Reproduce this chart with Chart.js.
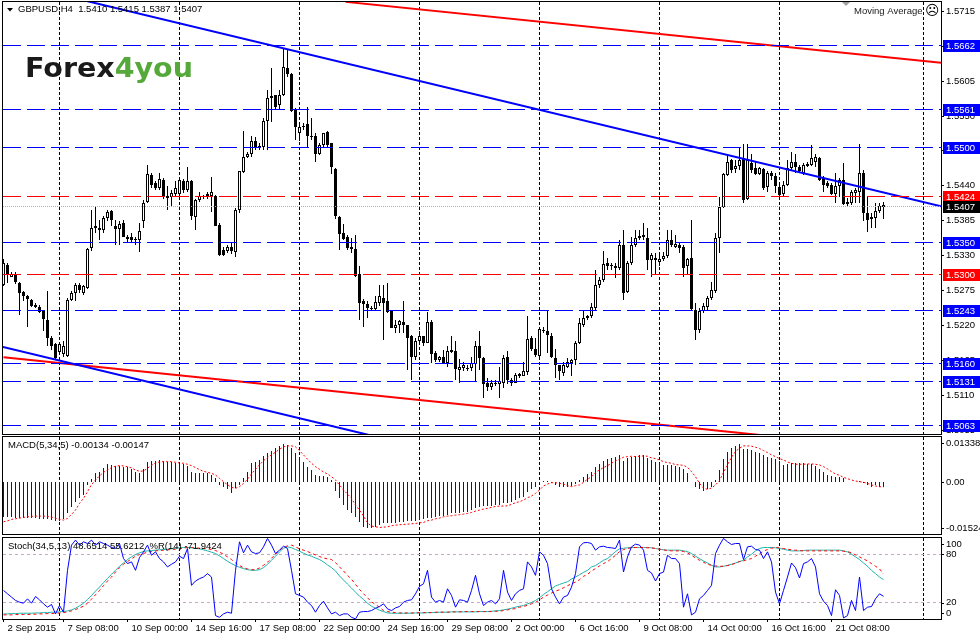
<!DOCTYPE html>
<html><head><meta charset="utf-8">
<script src="https://cdn.jsdelivr.net/npm/chart.js@4.4.1/dist/chart.umd.min.js"></script>
<style>
html,body{margin:0;padding:0;background:#fff;width:980px;height:635px;overflow:hidden}
canvas{position:absolute;left:0}
</style></head><body>
<canvas id="c1" width="980" height="436" style="top:0"></canvas>
<canvas id="c2" width="980" height="99" style="top:436px"></canvas>
<canvas id="c3" width="980" height="100" style="top:535px"></canvas>
<script>
// ---------- DATA (GBPUSD H4) ----------
const opens = [
1.5284,1.5316,1.5297,1.5301,1.5287,1.5272,1.5267,1.5260,1.5253,1.5249,
1.5242,1.5229,1.5200,1.5190,1.5178,1.5175,1.5172,1.5260,1.5271,1.5284,
1.5271,1.5279,1.5342,1.5374,1.5374,1.5371,1.5389,1.5401,1.5377,1.5372,
1.5381,1.5360,1.5359,1.5356,1.5354,1.5384,1.5414,1.5457,1.5444,1.5436,
1.5450,1.5424,1.5423,1.5427,1.5427,1.5448,1.5433,1.5448,1.5391,1.5418,
1.5424,1.5424,1.5424,1.5424,1.5379,1.5339,1.5338,1.5344,1.5335,1.5402,
1.5462,1.5486,1.5490,1.5511,1.5499,1.5502,1.5543,1.5578,1.5583,1.5567,
1.5583,1.5625,1.5617,1.5561,1.5523,1.5533,1.5537,1.5519,1.5519,1.5490,
1.5504,1.5525,1.5507,1.5466,1.5391,1.5366,1.5359,1.5343,1.5340,1.5301,
1.5258,1.5254,1.5246,1.5246,1.5256,1.5263,1.5258,1.5242,1.5216,1.5220,
1.5226,1.5221,1.5203,1.5170,1.5195,1.5203,1.5192,1.5226,1.5176,1.5166,
1.5170,1.5161,1.5178,1.5180,1.5149,1.5153,1.5153,1.5153,1.5160,1.5187,
1.5169,1.5129,1.5123,1.5128,1.5128,1.5129,1.5170,1.5134,1.5130,1.5141,
1.5141,1.5146,1.5200,1.5183,1.5172,1.5211,1.5211,1.5204,1.5169,1.5157,
1.5145,1.5155,1.5161,1.5166,1.5192,1.5221,1.5232,1.5235,1.5247,1.5283,
1.5292,1.5318,1.5316,1.5310,1.5310,1.5347,1.5272,1.5318,1.5347,1.5358,
1.5363,1.5358,1.5323,1.5326,1.5320,1.5325,1.5329,1.5354,1.5344,1.5347,
1.5344,1.5313,1.5326,1.5245,1.5213,1.5242,1.5249,1.5263,1.5275,1.5358,
1.5407,1.5457,1.5481,1.5466,1.5472,1.5484,1.5419,1.5476,1.5468,1.5459,
1.5466,1.5438,1.5460,1.5456,1.5438,1.5427,1.5442,1.5468,1.5478,1.5470,
1.5460,1.5472,1.5473,1.5478,1.5484,1.5452,1.5444,1.5442,1.5427,1.5440,
1.5450,1.5415,1.5413,1.5428,1.5430,1.5461,1.5398,1.5391,1.5389,1.5401,1.5410];
const highs = [
1.5324,1.5318,1.5305,1.5304,1.5288,1.5275,1.5268,1.5261,1.5255,1.5253,
1.5245,1.5274,1.5203,1.5192,1.5192,1.5195,1.5263,1.5275,1.5287,1.5287,
1.5284,1.5342,1.5402,1.5407,1.5386,1.5392,1.5402,1.5402,1.5386,1.5384,
1.5386,1.5363,1.5365,1.5359,1.5381,1.5418,1.5473,1.5460,1.5447,1.5460,
1.5452,1.5439,1.5434,1.5447,1.5452,1.5451,1.5469,1.5450,1.5419,1.5431,
1.5426,1.5431,1.5454,1.5426,1.5381,1.5343,1.5347,1.5350,1.5405,1.5464,
1.5527,1.5494,1.5519,1.5517,1.5507,1.5547,1.5591,1.5625,1.5584,1.5591,
1.5655,1.5654,1.5618,1.5562,1.5541,1.5539,1.5565,1.5547,1.5523,1.5507,
1.5523,1.5527,1.5507,1.5468,1.5392,1.5380,1.5363,1.5358,1.5363,1.5313,
1.5261,1.5258,1.5250,1.5266,1.5284,1.5284,1.5287,1.5242,1.5229,1.5229,
1.5258,1.5221,1.5205,1.5200,1.5211,1.5203,1.5241,1.5229,1.5179,1.5172,
1.5181,1.5187,1.5203,1.5195,1.5167,1.5163,1.5158,1.5171,1.5195,1.5211,
1.5171,1.5137,1.5134,1.5134,1.5155,1.5174,1.5179,1.5137,1.5145,1.5145,
1.5163,1.5235,1.5203,1.5200,1.5216,1.5218,1.5242,1.5208,1.5183,1.5158,
1.5163,1.5169,1.5167,1.5195,1.5232,1.5242,1.5237,1.5255,1.5308,1.5297,
1.5337,1.5326,1.5318,1.5318,1.5355,1.5371,1.5321,1.5360,1.5371,1.5371,
1.5381,1.5373,1.5334,1.5334,1.5331,1.5335,1.5371,1.5371,1.5363,1.5350,
1.5347,1.5326,1.5386,1.5256,1.5247,1.5255,1.5266,1.5288,1.5366,1.5423,
1.5460,1.5491,1.5482,1.5481,1.5499,1.5506,1.5506,1.5491,1.5478,1.5470,
1.5468,1.5463,1.5463,1.5460,1.5442,1.5447,1.5481,1.5494,1.5491,1.5473,
1.5476,1.5478,1.5505,1.5491,1.5486,1.5455,1.5447,1.5444,1.5460,1.5452,
1.5476,1.5421,1.5434,1.5436,1.5506,1.5465,1.5423,1.5397,1.5413,1.5413,1.5415];
const lows = [
1.5282,1.5287,1.5296,1.5286,1.5237,1.5258,1.5218,1.5249,1.5247,1.5240,
1.5211,1.5187,1.5182,1.5165,1.5176,1.5171,1.5170,1.5258,1.5258,1.5271,
1.5268,1.5277,1.5338,1.5365,1.5355,1.5365,1.5384,1.5376,1.5347,1.5347,
1.5359,1.5350,1.5350,1.5347,1.5336,1.5373,1.5413,1.5436,1.5434,1.5434,
1.5419,1.5402,1.5407,1.5423,1.5423,1.5428,1.5430,1.5386,1.5371,1.5415,
1.5420,1.5419,1.5399,1.5376,1.5330,1.5329,1.5334,1.5333,1.5328,1.5397,
1.5460,1.5484,1.5486,1.5497,1.5497,1.5497,1.5497,1.5540,1.5560,1.5560,
1.5582,1.5612,1.5557,1.5513,1.5510,1.5528,1.5502,1.5513,1.5477,1.5489,
1.5502,1.5502,1.5459,1.5387,1.5339,1.5355,1.5339,1.5334,1.5297,1.5229,
1.5218,1.5232,1.5245,1.5245,1.5250,1.5197,1.5239,1.5216,1.5208,1.5208,
1.5208,1.5150,1.5134,1.5166,1.5192,1.5187,1.5192,1.5161,1.5163,1.5163,
1.5161,1.5155,1.5176,1.5134,1.5129,1.5148,1.5148,1.5148,1.5132,1.5150,
1.5106,1.5116,1.5119,1.5124,1.5106,1.5121,1.5127,1.5124,1.5129,1.5137,
1.5140,1.5142,1.5179,1.5171,1.5169,1.5208,1.5177,1.5169,1.5137,1.5134,
1.5140,1.5153,1.5140,1.5158,1.5190,1.5218,1.5229,1.5232,1.5245,1.5279,
1.5289,1.5308,1.5308,1.5295,1.5308,1.5260,1.5271,1.5316,1.5344,1.5355,
1.5355,1.5308,1.5297,1.5300,1.5313,1.5321,1.5326,1.5344,1.5342,1.5334,
1.5297,1.5300,1.5245,1.5197,1.5208,1.5239,1.5245,1.5260,1.5271,1.5334,
1.5405,1.5455,1.5460,1.5461,1.5465,1.5413,1.5417,1.5460,1.5457,1.5457,
1.5434,1.5430,1.5449,1.5428,1.5423,1.5423,1.5440,1.5465,1.5460,1.5460,
1.5457,1.5470,1.5472,1.5470,1.5447,1.5431,1.5436,1.5426,1.5413,1.5423,
1.5410,1.5409,1.5410,1.5413,1.5413,1.5384,1.5368,1.5373,1.5373,1.5397,1.5387];
const closes = [
1.5318,1.5300,1.5301,1.5288,1.5271,1.5267,1.5262,1.5250,1.5249,1.5241,
1.5230,1.5200,1.5187,1.5169,1.5190,1.5187,1.5260,1.5271,1.5284,1.5276,
1.5282,1.5340,1.5374,1.5377,1.5371,1.5389,1.5399,1.5386,1.5372,1.5380,
1.5360,1.5356,1.5354,1.5354,1.5369,1.5413,1.5458,1.5442,1.5437,1.5451,
1.5423,1.5421,1.5428,1.5436,1.5450,1.5433,1.5448,1.5392,1.5418,1.5424,
1.5423,1.5427,1.5430,1.5377,1.5331,1.5331,1.5343,1.5338,1.5402,1.5463,
1.5485,1.5491,1.5511,1.5499,1.5503,1.5542,1.5578,1.5581,1.5565,1.5584,
1.5627,1.5616,1.5558,1.5532,1.5532,1.5535,1.5518,1.5517,1.5490,1.5505,
1.5523,1.5504,1.5469,1.5392,1.5364,1.5357,1.5342,1.5340,1.5298,1.5256,
1.5254,1.5247,1.5247,1.5257,1.5266,1.5256,1.5241,1.5216,1.5220,1.5227,
1.5221,1.5200,1.5171,1.5195,1.5203,1.5193,1.5226,1.5175,1.5166,1.5170,
1.5161,1.5179,1.5182,1.5151,1.5155,1.5157,1.5151,1.5161,1.5187,1.5169,
1.5127,1.5123,1.5130,1.5130,1.5132,1.5169,1.5134,1.5130,1.5142,1.5144,
1.5148,1.5199,1.5183,1.5174,1.5214,1.5213,1.5205,1.5170,1.5158,1.5148,
1.5158,1.5162,1.5166,1.5192,1.5224,1.5232,1.5235,1.5249,1.5284,1.5292,
1.5317,1.5313,1.5313,1.5313,1.5347,1.5271,1.5318,1.5347,1.5358,1.5361,
1.5359,1.5323,1.5331,1.5323,1.5325,1.5329,1.5355,1.5347,1.5349,1.5342,
1.5310,1.5325,1.5246,1.5213,1.5242,1.5250,1.5263,1.5276,1.5358,1.5407,
1.5458,1.5478,1.5465,1.5472,1.5481,1.5418,1.5481,1.5465,1.5459,1.5468,
1.5436,1.5460,1.5455,1.5439,1.5426,1.5442,1.5468,1.5478,1.5470,1.5463,
1.5473,1.5474,1.5484,1.5486,1.5450,1.5442,1.5440,1.5427,1.5440,1.5450,
1.5412,1.5412,1.5431,1.5434,1.5460,1.5398,1.5386,1.5388,1.5401,1.5409,1.5407];

const macdMain = [
-0.01054,-0.01054,-0.01054,-0.01064,-0.01064,-0.01074,-0.01074,-0.01083,-0.01083,-0.01093,
-0.01093,-0.01113,-0.01133,-0.01173,-0.01153,-0.01113,-0.00914,-0.00736,-0.00586,-0.00487,
-0.00388,-0.00089,0.00080,0.00258,0.00308,0.00408,0.00527,0.00507,0.00487,0.00477,
0.00457,0.00437,0.00378,0.00308,0.00278,0.00378,0.00586,0.00626,0.00636,0.00656,
0.00626,0.00606,0.00586,0.00557,0.00537,0.00527,0.00477,0.00308,0.00278,0.00278,
0.00278,0.00258,0.00209,0.00109,-0.00089,-0.00139,-0.00219,-0.00318,-0.00189,-0.00089,
0.00109,0.00308,0.00557,0.00606,0.00656,0.00775,0.00875,0.00934,0.01004,0.01074,
0.01133,0.01103,0.01004,0.00855,0.00706,0.00606,0.00457,0.00358,0.00209,0.00189,
0.00189,0.00159,0.00060,-0.00268,-0.00487,-0.00686,-0.00835,-0.00914,-0.01034,-0.01183,
-0.01332,-0.01382,-0.01382,-0.01332,-0.01282,-0.01233,-0.01213,-0.01213,-0.01213,-0.01203,
-0.01183,-0.01153,-0.01153,-0.01153,-0.01133,-0.01113,-0.01083,-0.01083,-0.01054,-0.01014,
-0.01014,-0.00984,-0.00934,-0.00934,-0.00914,-0.00885,-0.00885,-0.00835,-0.00785,-0.00755,
-0.00716,-0.00716,-0.00716,-0.00686,-0.00686,-0.00636,-0.00616,-0.00586,-0.00537,-0.00487,
-0.00437,-0.00288,-0.00219,-0.00139,-0.00040,0.00030,0.00040,-0.00020,-0.00089,-0.00159,
-0.00159,-0.00139,-0.00119,-0.00060,0.00060,0.00159,0.00229,0.00308,0.00457,0.00527,
0.00636,0.00676,0.00706,0.00755,0.00805,0.00636,0.00706,0.00755,0.00785,0.00805,
0.00805,0.00706,0.00656,0.00606,0.00557,0.00507,0.00507,0.00507,0.00477,0.00457,
0.00378,0.00278,0.00010,-0.00159,-0.00219,-0.00258,-0.00219,-0.00139,0.00060,0.00358,
0.00676,0.00905,0.01004,0.01074,0.01133,0.00974,0.00974,0.00954,0.00905,0.00855,
0.00805,0.00755,0.00706,0.00676,0.00636,0.00507,0.00527,0.00557,0.00557,0.00557,
0.00557,0.00527,0.00527,0.00477,0.00378,0.00308,0.00209,0.00179,0.00159,0.00139,
0.00109,0.00010,0.00010,-0.00010,0.00040,-0.00020,-0.00089,-0.00139,-0.00089,-0.00159,-0.00134];
const macdSignal = [
-0.01183,-0.01153,-0.01113,-0.01093,-0.01074,-0.01054,-0.01034,-0.01024,-0.01014,-0.01014,
-0.01014,-0.01024,-0.01044,-0.01074,-0.01113,-0.01133,-0.01083,-0.00964,-0.00835,-0.00636,
-0.00487,-0.00288,-0.00080,0.00060,0.00179,0.00288,0.00358,0.00427,0.00467,0.00487,
0.00477,0.00457,0.00417,0.00358,0.00318,0.00328,0.00408,0.00497,0.00567,0.00596,
0.00606,0.00606,0.00606,0.00586,0.00567,0.00557,0.00527,0.00487,0.00427,0.00368,
0.00318,0.00288,0.00258,0.00209,0.00109,0.00010,-0.00080,-0.00159,-0.00189,-0.00139,
-0.00040,0.00080,0.00239,0.00378,0.00507,0.00636,0.00726,0.00805,0.00885,0.00974,
0.01044,0.01074,0.01074,0.01044,0.00934,0.00805,0.00676,0.00557,0.00457,0.00378,
0.00298,0.00239,0.00159,0.00060,-0.00089,-0.00239,-0.00358,-0.00487,-0.00686,-0.00835,
-0.01014,-0.01213,-0.01312,-0.01332,-0.01352,-0.01342,-0.01332,-0.01302,-0.01282,-0.01272,
-0.01262,-0.01252,-0.01243,-0.01233,-0.01213,-0.01203,-0.01153,-0.01133,-0.01093,-0.01074,
-0.01034,-0.01014,-0.01004,-0.00984,-0.00974,-0.00954,-0.00934,-0.00905,-0.00865,-0.00835,
-0.00805,-0.00785,-0.00755,-0.00726,-0.00716,-0.00716,-0.00706,-0.00666,-0.00616,-0.00586,
-0.00537,-0.00467,-0.00417,-0.00338,-0.00239,-0.00119,-0.00060,-0.00020,-0.00020,-0.00040,
-0.00060,-0.00109,-0.00139,-0.00109,-0.00089,-0.00010,0.00080,0.00159,0.00278,0.00358,
0.00427,0.00487,0.00557,0.00626,0.00676,0.00736,0.00755,0.00765,0.00755,0.00765,
0.00775,0.00765,0.00716,0.00696,0.00656,0.00606,0.00577,0.00557,0.00517,0.00507,
0.00497,0.00437,0.00308,0.00159,-0.00040,-0.00179,-0.00219,-0.00179,-0.00089,0.00040,
0.00288,0.00507,0.00736,0.00905,0.01004,0.01074,0.01074,0.01064,0.01034,0.00994,
0.00934,0.00875,0.00805,0.00755,0.00696,0.00656,0.00596,0.00557,0.00527,0.00527,
0.00527,0.00537,0.00537,0.00527,0.00507,0.00457,0.00388,0.00308,0.00239,0.00199,
0.00139,0.00099,0.00060,0.00030,0.00010,-0.00010,-0.00040,-0.00089,-0.00119,-0.00139,-0.00147];

const stochMain = [
6.3,6.3,6.7,6.7,7.1,7.1,7.1,7.1,7.5,7.5,
7.9,7.9,8.4,8.4,8.8,9.2,10.0,11.3,13.3,16.2,
19.5,24.1,29.1,34.4,39.4,44.8,50.2,55.1,60.1,65.1,
69.2,73.4,76.7,79.6,81.7,83.3,84.1,84.5,85.0,85.4,
85.8,86.2,86.6,87.4,87.9,88.3,88.3,87.9,87.4,86.6,
85.4,84.1,82.5,80.8,77.9,74.6,71.3,68.4,65.9,63.8,
62.2,60.9,60.1,60.1,60.9,63.4,67.6,72.5,77.5,82.9,
87.4,89.1,87.9,85.8,83.7,81.2,79.1,77.5,75.4,73.4,
70.5,66.7,63.4,59.3,53.1,48.1,43.1,38.2,33.2,28.2,
24.1,19.5,15.8,13.3,10.8,9.2,7.5,7.1,7.1,7.1,
7.1,7.1,7.1,7.5,7.5,7.5,7.9,7.9,7.9,8.4,
8.4,8.4,8.8,8.8,8.8,8.8,8.8,8.8,8.8,9.2,
9.2,9.2,9.6,10.0,10.4,11.3,12.1,13.3,14.6,15.8,
16.6,18.7,20.4,22.9,26.2,30.3,33.6,37.3,40.7,42.7,
44.4,46.0,49.4,51.8,54.7,57.6,60.1,64.3,65.9,69.2,
72.5,74.6,78.7,83.3,86.6,87.4,87.9,88.3,88.3,88.3,
88.3,88.3,87.9,87.0,86.2,85.4,85.0,85.0,85.0,85.0,
84.1,83.3,80.8,77.5,74.6,71.7,69.2,66.3,64.3,64.3,
65.1,66.3,67.6,69.2,70.9,72.5,76.7,80.0,84.1,87.0,
88.3,88.3,88.3,87.9,87.0,86.2,85.0,84.1,84.1,84.1,
84.5,85.0,85.0,85.0,85.0,85.0,85.0,85.0,85.0,85.0,
84.1,82.9,80.0,76.7,73.4,69.2,65.1,60.1,56.0,51.8,48.6514];
const stochSignal = [
5.1,5.1,5.1,5.5,5.5,5.5,5.5,5.9,5.9,6.3,
6.3,6.7,6.7,7.1,7.5,7.9,8.8,10.0,11.7,13.7,
15.8,19.5,24.5,29.9,35.3,41.1,46.9,51.8,58.0,63.4,
67.6,70.9,74.2,77.5,79.6,80.8,82.5,83.3,84.1,84.5,
85.0,85.4,85.8,86.2,86.6,87.4,88.3,88.3,87.9,87.4,
87.0,86.6,85.8,84.5,82.5,80.0,76.7,73.4,69.2,65.9,
63.4,61.8,60.9,60.9,63.0,66.3,70.1,75.0,80.0,85.0,
88.3,90.3,91.2,89.1,86.6,85.0,83.3,81.2,79.1,77.1,
75.4,74.2,73.4,69.6,64.3,59.3,53.9,49.0,42.7,36.5,
31.1,26.2,21.2,17.9,14.6,10.4,9.2,8.4,7.9,7.5,
7.5,7.5,7.5,7.5,7.9,7.9,7.9,7.9,8.4,8.4,
8.4,8.4,8.8,8.8,8.8,9.2,9.2,9.2,9.2,9.2,
9.2,9.2,9.2,9.6,9.6,10.4,11.3,12.1,12.9,14.6,
15.4,17.0,18.7,20.4,23.7,27.0,29.5,32.0,34.4,36.1,
38.6,41.1,43.5,45.6,48.5,52.7,55.1,59.3,62.2,65.5,
68.4,70.9,74.6,78.7,83.3,85.8,87.0,87.9,88.3,88.3,
88.3,87.9,87.9,87.0,86.2,85.4,84.5,84.1,84.1,84.1,
83.3,81.7,78.7,75.4,72.5,70.1,67.6,66.3,65.5,65.1,
65.1,65.9,67.1,68.8,70.9,71.7,73.4,74.6,77.5,80.8,
83.7,85.8,87.4,88.3,87.9,87.0,86.2,85.4,85.0,84.5,
84.1,84.1,84.1,84.1,84.1,84.1,84.1,84.1,84.1,84.1,
83.7,83.3,81.7,79.1,76.7,74.2,71.7,68.4,65.1,61.8,55.6212];
const williamsR = [
-64.7,-68.9,-73.0,-77.1,-79.2,-80.5,-75.1,-80.5,-72.2,-76.3,
-81.3,-85.4,-82.1,-93.7,-83.4,-91.6,-39.9,-8.8,-2.6,-8.8,
-4.7,-6.8,-2.6,-8.8,-4.7,-6.8,-8.8,-11.7,-13.0,-6.8,
-25.4,-31.6,-29.5,-39.9,-24.1,-17.1,-8.8,-21.3,-17.1,-25.4,
-29.5,-35.7,-32.4,-29.5,-22.5,-25.4,-13.0,-58.5,-53.1,-50.2,
-48.2,-44.0,-48.2,-95.8,-97.9,-93.7,-91.6,-92.9,-39.9,-4.7,
-18.3,-8.8,-17.1,-19.2,-18.3,-10.9,-0.5,-8.8,-19.2,-15.0,
-10.1,-13.0,-39.9,-68.9,-70.9,-73.0,-79.2,-83.4,-91.6,-83.4,
-78.0,-86.3,-93.7,-91.6,-95.8,-93.7,-93.7,-97.9,-99.9,-91.6,
-90.8,-90.8,-89.6,-86.7,-84.6,-81.3,-87.5,-89.6,-86.3,-84.6,
-79.2,-77.1,-76.3,-68.9,-59.7,-56.5,-39.9,-73.0,-79.2,-77.1,
-79.2,-62.7,-70.9,-85.4,-76.3,-77.1,-79.2,-64.7,-46.1,-68.9,
-83.4,-79.2,-77.1,-81.3,-75.1,-39.9,-66.8,-77.1,-68.9,-64.7,
-62.7,-29.5,-35.7,-46.1,-17.1,-21.3,-31.6,-62.7,-73.0,-81.3,
-73.0,-70.9,-60.6,-44.0,-10.9,-5.9,-5.5,-6.8,-15.0,-10.9,
-10.1,-11.7,-12.1,-13.0,-2.6,-42.0,-23.3,-10.9,-7.6,-8.8,
-15.0,-39.9,-43.2,-53.1,-44.0,-42.0,-21.3,-25.4,-25.4,-31.6,
-85.4,-68.9,-95.0,-91.6,-75.1,-70.9,-64.7,-58.5,-19.2,-8.8,
-0.5,-4.7,-8.0,-6.8,-6.8,-26.6,-10.9,-10.1,-14.2,-15.0,
-25.4,-17.1,-29.5,-66.8,-81.3,-64.7,-48.2,-30.8,-36.6,-49.4,
-31.6,-29.5,-25.4,-35.7,-68.9,-78.0,-83.4,-95.8,-63.9,-70.9,
-98.7,-95.8,-77.1,-89.6,-48.2,-89.6,-85.4,-84.6,-75.1,-68.9,-71.9424];

const xTickIdx = [0,15,31,47,63,79,95,111,127,143,159,175,191,207];
const xTickLabels = ["2 Sep 2015","7 Sep 08:00","10 Sep 00:00","14 Sep 16:00","17 Sep 08:00","22 Sep 00:00","24 Sep 16:00","29 Sep 08:00","2 Oct 00:00","6 Oct 16:00","9 Oct 08:00","14 Oct 00:00","16 Oct 16:00","21 Oct 08:00"];
const gridIdx = [14,44,74,104,134,164,194,230];
const priceTicks = [1.5715,1.5660,1.5605,1.5550,1.5495,1.5440,1.5385,1.5330,1.5275,1.5220,1.5165,1.5110,1.5055];
const blueLevels = [1.5662,1.5561,1.5500,1.5350,1.5243,1.5160,1.5131,1.5063];
const redLevels = [1.5424,1.5300];
const bidPrice = 1.5407;
const blueTrendUpper = [[-0.125,1.5763],[234.375,1.5408]];
const blueTrendLower = [[-0.125,1.5186],[120,1.5004]];
const redTrendUpper = [[85.5,1.5730],[234.375,1.5634]];
const redTrendLower = [[0,1.5170],[234.375,1.5018]];
const macdAxisLabels = [[0.01338,"0.01338"],[0,"0.00"],[-0.01524,"-0.01524"]];
const stochAxisLabels = [[100,"100"],[80,"80"],[20,"20"],[0,"0"]];
const stochLevels = [80,20];
const titleMain = "GBPUSD,H4  1.5410 1.5415 1.5387 1.5407";
const titleMacd = "MACD(5,34,5) -0.00134 -0.00147";
const titleStoch = "Stoch(34,5,13) 48.6514 55.6212  %R(14) -71.9424";

// ---------- RENDERING ----------
const FONT = '"Liberation Sans", Arial, sans-serif';
const FS = 9.5;
const X_MIN = -0.125, X_MAX = 234.375;
const idx = closes.map((_, i) => i);
const BLUE = '#0000ff', RED = '#ff0000';

function hLine(v, color, dash, yAxisID) {
  return {type:'line', data:[{x:X_MIN,y:v},{x:X_MAX,y:v}], borderColor:color, borderWidth:1,
    borderDash:dash, pointRadius:0, order:0, snapY:v, yAxisID: yAxisID || 'y'};
}
function trend(pts, color) {
  return {type:'line', data:pts.map(p=>({x:p[0],y:p[1]})), borderColor:color, borderWidth:2,
    pointRadius:0, order:0};
}
// pixel-snapping of horizontal lines and bars (rendering crispness only)
const pixelSnap = {
  id:'pixelSnap',
  afterDatasetsUpdate(chart) {
    chart.data.datasets.forEach((ds, i) => {
      const meta = chart.getDatasetMeta(i);
      if (meta.type !== 'bar') return;
      meta.data.forEach(el => {
        let t = Math.round(el.y), b = Math.round(el.base);
        if (t === b && ds.minBarLength) { if (el.y <= el.base) b = t + 1; else t = b + 1; }
        el.y = t; el.base = b; el.height = b - t;
      });
    });
  },
  beforeDatasetDraw(chart, args) {
    const ds = chart.data.datasets[args.index];
    if (ds.snapY === undefined) return;
    const y = chart.scales[ds.yAxisID || 'y'].getPixelForValue(ds.snapY);
    chart.ctx.save(); chart.ctx.translate(0, Math.floor(y) + 0.5 - y); ds._snapped = true;
  },
  afterDatasetDraw(chart, args) {
    const ds = chart.data.datasets[args.index];
    if (ds._snapped) { chart.ctx.restore(); ds._snapped = false; }
  }
};
function frameGrid(chart) {
  const {ctx, chartArea:a, scales:{x}} = chart;
  ctx.save();
  ctx.beginPath(); ctx.rect(a.left, a.top, a.right-a.left, a.bottom-a.top); ctx.clip();
  ctx.strokeStyle = '#000'; ctx.lineWidth = 1; ctx.setLineDash([3,2]);
  gridIdx.forEach(g => {
    const px = Math.floor(x.getPixelForValue(g)) + 0.5;
    ctx.beginPath(); ctx.moveTo(px, a.top); ctx.lineTo(px, a.bottom); ctx.stroke();
  });
  ctx.restore();
}
function drawFrame(chart) {
  const {ctx, chartArea:a} = chart;
  ctx.save(); ctx.strokeStyle = '#000'; ctx.lineWidth = 1; ctx.setLineDash([]);
  ctx.strokeRect(a.left-0.5, a.top-0.5, a.right-a.left+1, a.bottom-a.top+1);
  ctx.restore();
}
function text(ctx, s, x, y, color, font) {
  ctx.fillStyle = color; ctx.font = font || (FS+'px '+FONT);
  ctx.textBaseline = 'middle'; ctx.textAlign = 'left'; ctx.fillText(s, x, y);
}
function sideLabels(chart, list, scaleId) {
  const {ctx, chartArea:a} = chart; const s = chart.scales[scaleId];
  ctx.save();
  list.forEach(([v, t]) => {
    let y = s.getPixelForValue(v);
    y = Math.max(a.top + 6, Math.min(a.bottom - 6, y));
    ctx.strokeStyle = '#000'; ctx.lineWidth = 1;
    ctx.beginPath(); ctx.moveTo(a.right, Math.round(y)+0.5); ctx.lineTo(a.right+3, Math.round(y)+0.5); ctx.stroke();
    text(ctx, t, a.right + 5, y, '#000');
  });
  ctx.restore();
}
const baseOpts = {responsive:false, devicePixelRatio:1, animation:false, events:[],
  plugins:{legend:{display:false}, tooltip:{enabled:false}}};
const xLinear = {type:'linear', min:X_MIN, max:X_MAX, offset:false, display:false};

// ---- main price pane ----
const mainDecor = {
  id:'mainDecor',
  beforeDatasetsDraw(chart) {
    frameGrid(chart);
    const ctx = chart.ctx;
    ctx.save();
    ctx.font = 'bold 26px "DejaVu Sans", sans-serif';
    ctx.textBaseline = 'alphabetic';
    const w1 = ctx.measureText('Forex').width, w2 = ctx.measureText('4you').width;
    const k = 168 / (w1 + w2);
    ctx.translate(25, 76.5); ctx.scale(k, 1);
    ctx.fillStyle = '#1a1a1a'; ctx.fillText('Forex', 0, 0);
    ctx.fillStyle = '#55a83a'; ctx.fillText('4you', w1, 0);
    ctx.restore();
  },
  afterDraw(chart) {
    const {ctx, chartArea:a, scales:{y}} = chart;
    drawFrame(chart);
    ctx.save();
    const boxes = blueLevels.map(v=>[v,BLUE]).concat(redLevels.map(v=>[v,RED]), [[bidPrice,'#000']]);
    boxes.forEach(([v,c]) => {
      const py = Math.floor(y.getPixelForValue(v));
      ctx.fillStyle = c; ctx.fillRect(a.right+2, py-5, 980-a.right-2, 12);
      text(ctx, v.toFixed(4), a.right+5, py+1, '#fff');
    });
    ctx.beginPath(); ctx.moveTo(7,8); ctx.lineTo(13,8); ctx.lineTo(10,11.5); ctx.closePath();
    ctx.fillStyle = '#000'; ctx.fill();
    text(ctx, titleMain, 18, 9.5, '#000');
    ctx.beginPath(); ctx.moveTo(842,2); ctx.lineTo(850,2); ctx.lineTo(846,6); ctx.closePath();
    ctx.fillStyle = '#a0a0a0'; ctx.fill();
    text(ctx, 'Moving Average', 854, 11.5, '#202020');
    text(ctx, '\u2639', 925, 11.5, '#000', '14px "DejaVu Sans", sans-serif');
    ctx.restore();
  }
};
const mainDatasets = [];
blueLevels.forEach(v => mainDatasets.push(hLine(v, BLUE, [18,6])));
redLevels.forEach(v => mainDatasets.push(hLine(v, RED, [18,6])));
mainDatasets.push(hLine(bidPrice, '#b8a8b8', [1,1]));
mainDatasets.push(trend(blueTrendUpper, BLUE), trend(blueTrendLower, BLUE),
                  trend(redTrendUpper, RED), trend(redTrendLower, RED));
mainDatasets.push({type:'bar', data: idx.map(i=>({x:i, y:[opens[i], closes[i]]})),
  backgroundColor: idx.map(i => closes[i] >= opens[i] ? '#ffffff' : '#000000'),
  borderColor:'#000', borderWidth:1, borderSkipped:false, barThickness:3, grouped:false,
  inflateAmount:0, minBarLength:1, order:1});
mainDatasets.push({type:'bar', data: idx.map(i=>({x:i, y:[lows[i], highs[i]]})),
  backgroundColor:'#000', borderWidth:0, barThickness:1, grouped:false, inflateAmount:0, order:2});

new Chart(document.getElementById('c1'), {
  type:'bar', data:{datasets: mainDatasets},
  options: Object.assign({}, baseOpts, {
    layout:{padding:{left:3, top:2, right:0, bottom:2}},
    scales:{
      x: xLinear,
      y:{position:'right', min:1.50489, max:1.57298,
        afterBuildTicks: s => { s.ticks = priceTicks.map(v => ({value:v})); },
        afterFit: s => { s.width = 39; s.paddingTop = 0; s.paddingBottom = 0; },
        ticks:{autoSkip:false, color:'#000', padding:2, font:{family:FONT, size:FS}, callback: v => Number(v).toFixed(4)},
        grid:{drawOnChartArea:false, drawTicks:true, tickLength:3, color:'#000'},
        border:{display:false}}
    }
  }),
  plugins:[pixelSnap, mainDecor]
});

// ---- MACD pane ----
new Chart(document.getElementById('c2'), {
  type:'bar',
  data:{datasets:[
    {type:'line', data: idx.map(i=>({x:i, y:macdSignal[i]})), borderColor:RED, borderWidth:1,
      borderDash:[2,2], pointRadius:0, order:0},
    {type:'bar', data: idx.map(i=>({x:i, y:macdMain[i]})), backgroundColor:BLUE, borderWidth:0,
      barThickness:1, grouped:false, inflateAmount:0, order:1}
  ]},
  options: Object.assign({}, baseOpts, {
    layout:{padding:{left:3, top:1, right:39, bottom:1}},
    scales:{
      x: xLinear,
      y:{min:-0.01546, max:0.01338, display:false}
    }
  }),
  plugins:[pixelSnap, {id:'macdDecor',
    beforeDatasetsDraw(chart){ frameGrid(chart); },
    afterDraw(chart){ drawFrame(chart); sideLabels(chart, macdAxisLabels, 'y');
      text(chart.ctx, titleMacd, 8, 9.5, '#000'); }}]
});

// ---- Stochastic / %R pane ----
new Chart(document.getElementById('c3'), {
  type:'line',
  data:{datasets:[
    {data: idx.map(i=>({x:i, y:williamsR[i]})), yAxisID:'yR', borderColor:BLUE, borderWidth:1, pointRadius:0, order:0},
    {data: idx.map(i=>({x:i, y:stochSignal[i]})), borderColor:RED, borderWidth:1, borderDash:[3,3], pointRadius:0, order:1},
    {data: idx.map(i=>({x:i, y:stochMain[i]})), borderColor:'#20b2aa', borderWidth:1, pointRadius:0, order:2}
  ].concat(stochLevels.map(v => Object.assign(hLine(v, '#c4a8c4', [3,3]), {order:3})))},
  options: Object.assign({}, baseOpts, {
    layout:{padding:{left:3, top:3, right:39, bottom:0}},
    scales:{
      x:{type:'linear', min:X_MIN, max:X_MAX, offset:false, position:'bottom',
        afterBuildTicks: s => { s.ticks = xTickIdx.map(v => ({value:v})); },
        afterFit: s => { s.height = 16; s.paddingLeft = 0; s.paddingRight = 0; },
        ticks:{autoSkip:false, maxRotation:0, minRotation:0, align:'start', labelOffset:4, padding:1,
          color:'#000', font:{family:FONT, size:FS}, callback:(v, i) => xTickLabels[i]},
        grid:{drawOnChartArea:false, drawTicks:true, tickLength:3, color:'#000'},
        border:{display:false}},
      y:{min:0, max:100, display:false},
      yR:{min:-100, max:0, display:false}
    }
  }),
  plugins:[pixelSnap, {id:'stochDecor',
    beforeDatasetsDraw(chart){ frameGrid(chart); },
    afterDraw(chart){ drawFrame(chart); sideLabels(chart, stochAxisLabels, 'y');
      text(chart.ctx, titleStoch, 8, 11.5, '#000'); }}]
});
</script>
</body></html>
